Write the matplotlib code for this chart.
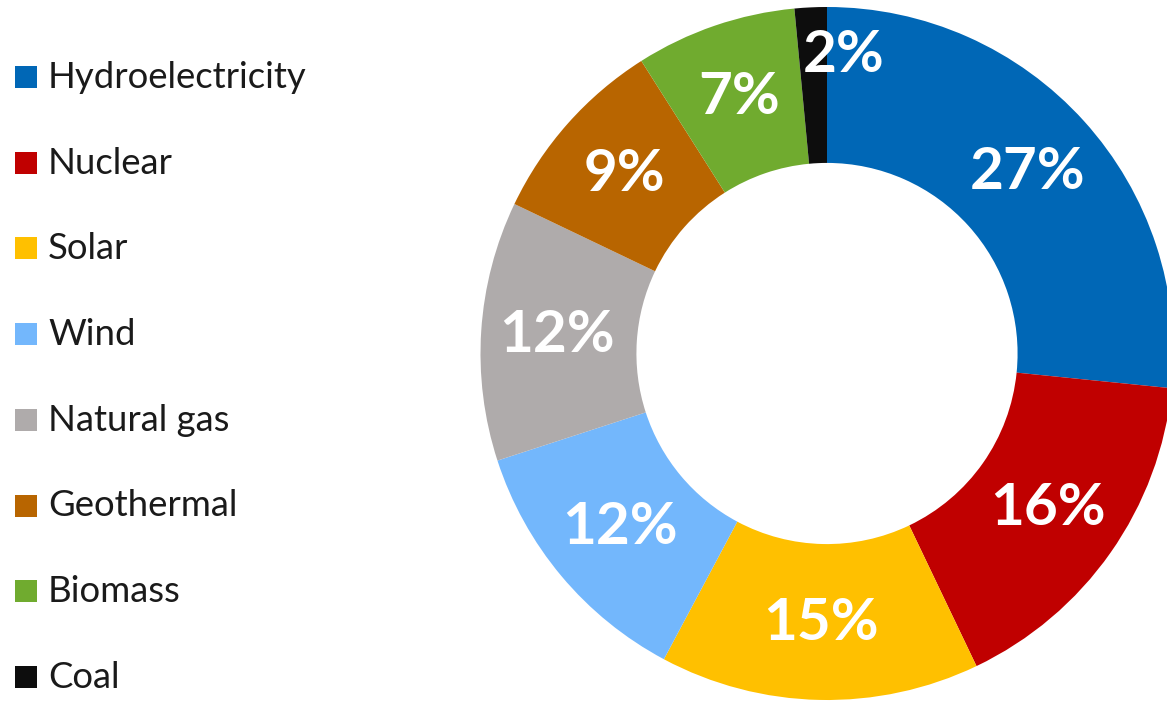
import numpy as np
import matplotlib.pyplot as plt
from matplotlib.patches import Rectangle

plt.rcParams['font.family'] = ['Lato', 'DejaVu Sans']

# energy mix shares (%)
sources = ['Hydroelectricity', 'Nuclear', 'Solar', 'Wind', 'Natural gas',
           'Geothermal', 'Biomass', 'Coal']
shares = [26.6, 16.3, 14.9, 12.2, 12.1, 8.9, 7.5, 1.5]
labels = ['27%', '16%', '15%', '12%', '12%', '9%', '7%', '2%']
colors = ['#0067B6', '#C00000', '#FFC000', '#73B7FC', '#AFABAB',
          '#B86500', '#70AB2F', '#0D0D0D']

W, H = 1167, 702
fig = plt.figure(figsize=(W / 100, H / 100), dpi=100)

# donut axes, centre (827, 353.5) px, radius 346.5 px
cx, cy, R = 827, 353.5, 346.5
ax = fig.add_axes([(cx - R) / W, (H - cy - R) / H, 2 * R / W, 2 * R / H])
wedges, _ = ax.pie(shares, colors=colors, startangle=90, counterclock=False,
                   radius=1, wedgeprops=dict(width=0.45, linewidth=0))
ax.set_xlim(-1, 1)
ax.set_ylim(-1, 1)
ax.set_aspect('equal')
ax.axis('off')

# percentage labels inside ring
for i, w in enumerate(wedges):
    ang = np.deg2rad((w.theta1 + w.theta2) / 2)
    r = 0.78
    if shares[i] < 5:
        # small slice label pushed outward and right
        ang = np.deg2rad(86.8)
        r = 0.86
    ax.text(r * np.cos(ang), r * np.sin(ang), labels[i],
            ha='center', va='center', color='white',
            fontsize=42, fontweight='bold')

# legend on the left
for i, (name, c) in enumerate(zip(sources, colors)):
    base = 88 + i * 85.7
    fig.add_artist(Rectangle((15 / W, (H - base) / H), 22 / W, 22 / H,
                             transform=fig.transFigure, color=c, lw=0))
    fig.text(48 / W, (H - base) / H, name, ha='left', va='baseline',
             fontsize=26.3, color='#1a1a1a')

fig.savefig('out.png', dpi=100)
